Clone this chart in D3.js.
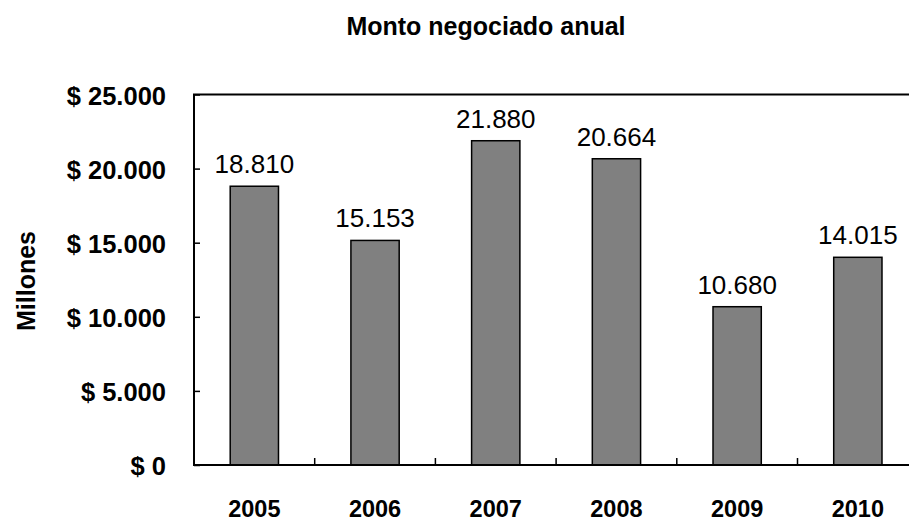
<!DOCTYPE html>
<html>
<head>
<meta charset="utf-8">
<script src="https://cdn.jsdelivr.net/npm/d3@7"></script>
<style>
  html, body { margin: 0; padding: 0; background: #fff; }
  svg { display: block; font-family: "Liberation Sans", Arial, sans-serif; }
</style>
</head>
<body>
<svg id="chart" width="909" height="521"></svg>
<script>
const categories = ["2005", "2006", "2007", "2008", "2009", "2010"];
const values = [18810, 15153, 21880, 20664, 10680, 14015];
const valueLabels = ["18.810", "15.153", "21.880", "20.664", "10.680", "14.015"];
const yTicks = [0, 5000, 10000, 15000, 20000, 25000];
const yTickLabels = ["$ 0", "$ 5.000", "$ 10.000", "$ 15.000", "$ 20.000", "$ 25.000"];
const chartTitle = "Monto negociado anual";
const yTitle = "Millones";

const svg = d3.select("#chart");
const plotLeft = 194, plotTop = 94.5, plotBottom = 465, step = 120.7;
const plotRight = plotLeft + step * categories.length;

const x = d3.scaleBand().domain(categories).range([plotLeft, plotRight])
  .paddingInner(0.6).paddingOuter(0.3);
const xb = d3.scaleBand().domain(categories).range([plotLeft, plotRight]).padding(0);
const y = d3.scaleLinear().domain([0, 25000]).range([plotBottom, plotTop]);

// bars
svg.append("g").selectAll("rect").data(values).join("rect")
  .attr("x", (d, i) => x(categories[i]))
  .attr("y", d => y(d))
  .attr("width", x.bandwidth())
  .attr("height", d => y(0) - y(d))
  .attr("fill", "#808080")
  .attr("stroke", "#000")
  .attr("stroke-width", 1.5);

// plot frame (top, left, bottom; right lies outside the window)
svg.append("path")
  .attr("d", `M${plotRight},${y(25000)}H${plotLeft}V${y(0)}H${plotRight}`)
  .attr("fill", "none").attr("stroke", "#000").attr("stroke-width", 2);

// y axis ticks (inside)
const yAxis = d3.axisLeft(y).tickValues(yTicks).tickSize(-6).tickFormat("");
const gy = svg.append("g").attr("transform", `translate(${plotLeft},0)`).call(yAxis);
gy.select(".domain").remove();
gy.selectAll(".tick line").attr("stroke", "#000").attr("stroke-width", 1.5);

svg.append("g").selectAll("text").data(yTicks).join("text")
  .attr("x", 166)
  .attr("y", d => y(d) + 10)
  .attr("text-anchor", "end")
  .attr("font-size", 25.5).attr("font-weight", "bold")
  .text((d, i) => yTickLabels[i]);

// x axis ticks at band boundaries (inside)
const bounds = categories.slice(1).map(c => xb(c));
svg.append("g").selectAll("line").data(bounds).join("line")
  .attr("x1", d => d).attr("x2", d => d)
  .attr("y1", y(0)).attr("y2", y(0) - 7)
  .attr("stroke", "#000").attr("stroke-width", 1.5);

svg.append("g").selectAll("text").data(categories).join("text")
  .attr("x", d => xb(d) + xb.bandwidth() / 2)
  .attr("y", 517)
  .attr("text-anchor", "middle")
  .attr("font-size", 23.5).attr("font-weight", "bold")
  .text(d => d);

// value labels
svg.append("g").selectAll("text").data(values).join("text")
  .attr("x", (d, i) => x(categories[i]) + x.bandwidth() / 2)
  .attr("y", d => y(d) - 13)
  .attr("text-anchor", "middle")
  .attr("font-size", 26)
  .text((d, i) => valueLabels[i]);

// title
svg.append("text")
  .attr("x", 486).attr("y", 35)
  .attr("text-anchor", "middle")
  .attr("font-size", 25).attr("font-weight", "bold")
  .text(chartTitle);

// y title
svg.append("text")
  .attr("transform", "translate(35,281) rotate(-90)")
  .attr("text-anchor", "middle")
  .attr("font-size", 25).attr("font-weight", "bold")
  .text(yTitle);
</script>
</body>
</html>
